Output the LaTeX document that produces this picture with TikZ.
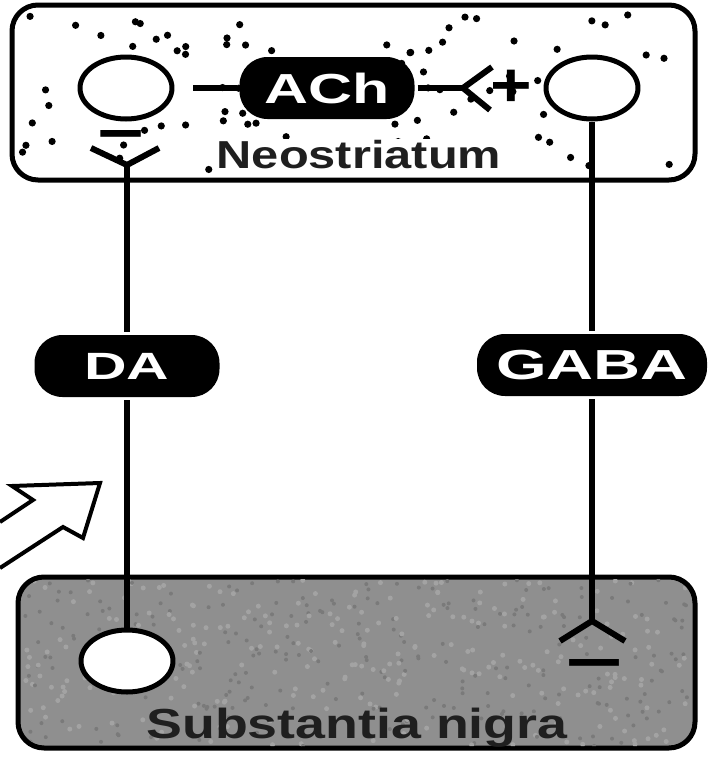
\documentclass[tikz,border=0pt]{standalone}
\usepackage{fontspec}
\setmainfont{Liberation Sans}
\usepackage{graphicx}
\usetikzlibrary{shapes.geometric}
\begin{document}
\begin{tikzpicture}[x=1pt, y=-1pt, line width=6pt, line join=round,
	region/.style={draw, line width=5pt, rounded corners=26pt},
	cell/.style={draw, ellipse, fill=white, line width=5pt, inner sep=0pt,
		minimum width=92pt, minimum height=62pt},
	pill/.style={fill=black, text=white, rounded corners=28pt, inner sep=0pt,
		minimum height=62pt},
	sign/.style={inner sep=0pt, font=\fontsize{62}{62}\selectfont\bfseries}]
	\useasboundingbox (0,0) rectangle (715,758);
	
	% 1. 两个区域（上：纹状体，下：黑质）
	\draw[region, fill=white] (12,5) rectangle (695,180);
	\pgfmathsetseed{11}
	\foreach \i in {1,...,85}{
		\pgfmathsetmacro{\dx}{22+664*rnd}
		\pgfmathsetmacro{\dy}{14+158*rnd}
		\fill (\dx,\dy) circle[radius=3.6];
	}
	\draw[region, fill=black!44] (18,577) rectangle (695,748);
	\begin{scope}
		\clip[rounded corners=26pt] (20,579) rectangle (693,746);
		\foreach \i in {1,...,260}{
			\pgfmathsetmacro{\dx}{22+670*rnd}
			\pgfmathsetmacro{\dy}{580+166*rnd}
			\fill[black!36] (\dx,\dy) circle[radius=2.5];
			\pgfmathsetmacro{\dx}{22+670*rnd}
			\pgfmathsetmacro{\dy}{580+166*rnd}
			\fill[black!52] (\dx,\dy) circle[radius=2];
		}
	\end{scope}
	
	% 2. 神经元胞体
	\node[cell] (nL) at (126,88) {};
	\node[cell] (nR) at (592,88) {};
	\node[cell] (nB) at (127,661) {};
	
	% 3. 递质标签
	\node[pill, minimum width=175pt, font=\fontsize{42}{42}\selectfont\bfseries] (ach) at (327,88) {\scalebox{1.45}[1]{ACh}};
	\node[pill, minimum width=185pt, font=\fontsize{38}{38}\selectfont\bfseries] (da) at (127,366) {\scalebox{1.55}[1]{DA}};
	\node[pill, minimum width=230pt, font=\fontsize{42}{42}\selectfont\bfseries] (gaba) at (592,365) {\scalebox{1.55}[1]{GABA}};
	
	% 4. 区域名称
	\node[inner sep=1pt, fill=white, font=\fontsize{39}{39}\selectfont\bfseries, text=black!88, anchor=base] (neo) at (359,168) {\scalebox{1.25}[1]{Neostriatum}};
	\node[inner sep=0pt, font=\fontsize{42}{42}\selectfont\bfseries, text=black!88, anchor=base] (sn) at (357,738) {\scalebox{1.28}[1]{Substantia nigra}};
	
	% 5. 突触点
	\coordinate (synL) at (127,165);
	\coordinate (synA) at (463,88);
	\coordinate (synB) at (592,621);
	\coordinate (achIn) at (193,88);
	
	% 6. 投射纤维
	\draw (achIn) -- (ach.west);
	\draw (ach.east) -- (synA);
	\draw (synL) -- (da.north);
	\draw (da.south) -- (nB.north);
	\draw (nR.south) -- (gaba.north);
	\draw (gaba.south) -- (synB);
	
	% 7. 突触末梢
	\draw ([shift={(-36,-17)}]synL) -- (synL) -- ([shift={(32,-17)}]synL);
	\draw ([shift={(29,-21)}]synA) -- (synA) -- ([shift={(27,22)}]synA);
	\draw ([shift={(-32,20)}]synB) -- (synB) -- ([shift={(33,20)}]synB);
	
	% 8. 正负号
	\node[sign] (mL) at (121,142) {\scalebox{1.3}[1]{−}};
	\node[sign] (pA) at (511,88) {\scalebox{1.15}[1]{+}};
	\node[sign] (mB) at (594,671) {\scalebox{1.6}[1]{−}};
	
	% 9. 空心箭头
	\draw[line width=4pt, fill=white, line join=miter] (0,522) -- (33,500) -- (12,486) -- (100,483) -- (83,538) -- (63,527) -- (0,568);
	
\end{tikzpicture}
\end{document}
